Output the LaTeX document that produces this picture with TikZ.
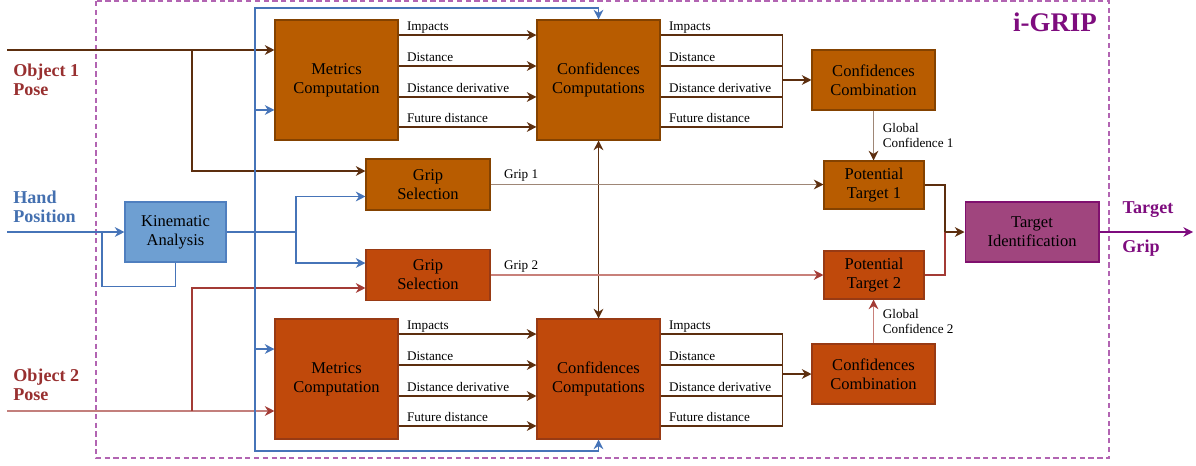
\documentclass[tikz,border=0pt]{standalone}
\usepackage{fontspec}
\setmainfont{Liberation Serif}
\usetikzlibrary{arrows.meta}

\definecolor{orangeone}{HTML}{B85C00}
\definecolor{orangetwo}{HTML}{C0490B}
\definecolor{borderone}{HTML}{844200}
\definecolor{bordertwo}{HTML}{983A14}
\definecolor{kinfill}{HTML}{6E9FD2}
\definecolor{kinborder}{HTML}{4F7FBF}
\definecolor{tidfill}{HTML}{A0457E}
\definecolor{tidborder}{HTML}{80106E}
\definecolor{brownline}{HTML}{5C2E0E}
\definecolor{lightbrown}{HTML}{9E8676}
\definecolor{blueline}{HTML}{4674B8}
\definecolor{redline}{HTML}{A33B35}
\definecolor{lightred}{HTML}{C8807A}
\definecolor{posered}{HTML}{983030}
\definecolor{handblue}{HTML}{4470B0}
\definecolor{gripviolet}{HTML}{7E0C7E}
\definecolor{framecol}{HTML}{B264B2}

\newcommand\boxfont{\fontsize{9.4}{10.8}\selectfont}
\newcommand\lblfont{\fontsize{7.5}{8.6}\selectfont}
\newcommand\inputfont{\fontsize{10.3}{10.9}\selectfont\bfseries}
\newcommand\tipsize{length=5.5pt,width=5.5pt}

\tikzset{
  block/.style={draw, line width=0.6pt, align=center, inner sep=0pt, font=\boxfont},
  bigblock/.style={block, minimum width=2.46cm, minimum height=2.4cm},
  midblock/.style={block, minimum width=2.46cm, minimum height=1.2cm},
  smallblock/.style={block, minimum width=2cm, minimum height=0.96cm},
  gripblock/.style={block, minimum width=2.48cm, minimum height=1.02cm},
  objone/.style={fill=orangeone, draw=borderone},
  objtwo/.style={fill=orangetwo, draw=bordertwo},
  wire/.style={line width=0.7pt},
  arr/.style={-{Stealth[\tipsize]}},
  arrbrown/.style={-{Stealth[\tipsize,color=brownline]}},
  arrred/.style={-{Stealth[\tipsize,color=redline]}},
  darr/.style={{Stealth[\tipsize]}-{Stealth[\tipsize]}},
  lbl/.style={font=\lblfont, inner sep=0pt, text=black},
  inlbl/.style={font=\inputfont, align=left, inner sep=0pt, anchor=west},
}

\begin{document}
\begin{tikzpicture}[x=0.02cm, y=-0.02cm]
    \useasboundingbox (0,0) rectangle (1196,466);

    \draw[framecol, line width=0.6pt, dash pattern=on 3pt off 2pt] (96,1) rectangle (1109,458);

    \node[bigblock,objone] (met1) at (336.5,80) {Metrics\\Computation};
    \node[bigblock,objone] (cc1) at (598.5,80) {Confidences\\Computations};
    \node[midblock,objone] (comb1) at (873.5,80) {Confidences\\Combination};
    \node[gripblock,objone] (gs1) at (428,184.5) {Grip\\Selection};
    \node[smallblock,objone] (pt1) at (874,185) {Potential\\Target 1};
    \node[block,fill=kinfill,draw=kinborder,minimum width=2.02cm,minimum height=1.2cm] (kin) at (175.5,232) {Kinematic\\Analysis};
    \node[block,fill=tidfill,draw=tidborder,minimum width=2.68cm,minimum height=1.2cm] (tid) at (1032,232) {Target\\Identification};
    \node[gripblock,objtwo] (gs2) at (428,275) {Grip\\Selection};
    \node[smallblock,objtwo] (pt2) at (874,275) {Potential\\Target 2};
    \node[bigblock,objtwo] (met2) at (336.5,379) {Metrics\\Computation};
    \node[bigblock,objtwo] (cc2) at (598.5,379) {Confidences\\Computations};
    \node[midblock,objtwo] (comb2) at (873.5,374) {Confidences\\Combination};

    \node[inlbl,text=posered] (obj1) at (13,80) {Object 1\\Pose};
    \node[inlbl,text=handblue] (hand) at (13,207) {Hand\\Position};
    \node[inlbl,text=posered] (obj2) at (13,385) {Object 2\\Pose};
    \node[font=\fontsize{15.3}{16}\selectfont\bfseries,text=gripviolet,inner sep=0pt] (igrip) at (1055,22) {i-GRIP};
    \node[inlbl,text=gripviolet,anchor=center] (tgt) at (1148,210) {Target};
    \node[inlbl,text=gripviolet,anchor=center] (grp) at (1141,248) {Grip};

    \coordinate (o1in) at (7,50);
    \coordinate (o1br) at (192,50);
    \coordinate (hin) at (7,232);
    \coordinate (hloop) at (102,232);
    \coordinate (kbus) at (255,232);
    \coordinate (btop) at (255,8);
    \coordinate (bbot) at (255,451);
    \coordinate (kbr) at (296,232);
    \coordinate (o2in) at (7,411);
    \coordinate (o2br) at (192,411);
    \coordinate (tj) at (945,232);
    \coordinate (tout) at (1193,232);
    \coordinate (m1b) at ([yshift=-0.6cm]met1.west);
    \coordinate (m2b) at ([yshift=0.6cm]met2.west);
    \coordinate (m2r) at ([yshift=-0.64cm]met2.west);
    \coordinate (g1a) at ([yshift=0.27cm]gs1.west);
    \coordinate (g1b) at ([yshift=-0.24cm]gs1.west);
    \coordinate (g2b) at ([yshift=0.24cm]gs2.west);
    \coordinate (g2r) at ([yshift=-0.26cm]gs2.west);

    \draw[wire,brownline,arr] (o1in) -- (met1.west |- o1in);
    \draw[wire,brownline,arr] (o1br) |- (g1a);
    \draw[wire,redline,arr] (o2in) -- (m2r);
    \draw[wire,redline,arr] (o2br) |- (g2r);

    \draw[wire,blueline,arr] (hin) -- (kin.west);
    \draw[wire,blueline] (kin.south) -- ++(0,24) -| (hloop);
    \draw[wire,blueline] (kin.east) -- (kbr);
    \draw[wire,blueline,arr] (kbr) |- (g1b);
    \draw[wire,blueline,arr] (kbr) |- (g2b);
    \draw[wire,blueline,arr] (kbus) -- (btop) -| (cc1.north);
    \draw[wire,blueline,arr] (kbus) -- (bbot) -| (cc2.south);
    \draw[wire,blueline,arr] (kbus |- m1b) -- (m1b);
    \draw[wire,blueline,arr] (kbus |- m2b) -- (m2b);

    \foreach \dy/\lab [count=\i] in {0.9cm/Impacts,0.28cm/Distance,-0.34cm/Distance derivative,-0.94cm/Future distance} {
        \draw[wire,brownline,arr] ([yshift=\dy]met1.east) -- node[lbl,pos=0,anchor=base west,xshift=4.5pt,yshift=2.4pt] {\lab} ([yshift=\dy]cc1.west);
        \draw[wire,brownline,arr] ([yshift=\dy]met2.east) -- node[lbl,pos=0,anchor=base west,xshift=4.5pt,yshift=2.4pt] {\lab} ([yshift=\dy]cc2.west);
        \coordinate (ra\i) at ([xshift=2.44cm,yshift=\dy]cc1.east);
        \coordinate (rb\i) at ([xshift=2.44cm,yshift=\dy]cc2.east);
        \draw[wire,brownline] ([yshift=\dy]cc1.east) -- node[lbl,pos=0,anchor=base west,xshift=4.5pt,yshift=2.4pt] {\lab} (ra\i);
        \draw[wire,brownline] ([yshift=\dy]cc2.east) -- node[lbl,pos=0,anchor=base west,xshift=4.5pt,yshift=2.4pt] {\lab} (rb\i);
    }
    \draw[wire,brownline] (ra1) -- (ra4);
    \draw[wire,brownline] (rb1) -- (rb4);
    \draw[wire,brownline,arr] (ra1 |- comb1.west) -- (comb1.west);
    \draw[wire,brownline,arr] (rb1 |- comb2.west) -- (comb2.west);

    \draw[wire,brownline,darr] (cc1.south) -- (cc2.north);

    \draw[wire,lightbrown,arrbrown] (comb1.south) -- node[lbl,anchor=west,align=left,xshift=5pt] {Global\\Confidence 1} (comb1.south |- pt1.north);
    \draw[wire,lightred,arrred] (comb2.north) -- node[lbl,anchor=west,align=left,xshift=5pt] {Global\\Confidence 2} (comb2.north |- pt2.south);

    \draw[wire,lightbrown,arrbrown] (gs1.east) -- node[lbl,pos=0,anchor=base west,xshift=7.4pt,yshift=3.4pt] {Grip 1} (gs1.east -| pt1.west);
    \draw[wire,lightred,arrred] (gs2.east) -- node[lbl,pos=0,anchor=base west,xshift=7.4pt,yshift=3.4pt] {Grip 2} (gs2.east -| pt2.west);

    \draw[wire,brownline] (pt1.east) -| (tj);
    \draw[wire,redline] (pt2.east) -| (tj);
    \draw[wire,brownline,arr] (tj) -- (tid.west);
    \draw[wire,gripviolet,arr] (tid.east) -- (tout);

\end{tikzpicture}
\end{document}
